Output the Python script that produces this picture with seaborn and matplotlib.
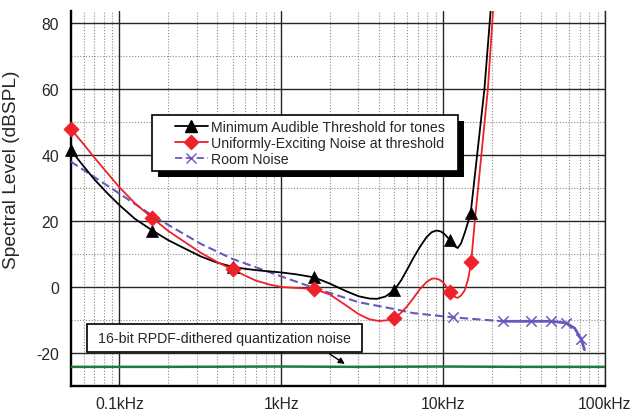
import matplotlib
matplotlib.use("Agg")
import matplotlib.pyplot as plt
from matplotlib.lines import Line2D
from matplotlib.patches import Rectangle
from matplotlib.ticker import FixedLocator, LogLocator, NullFormatter
import seaborn as sns

# Frequencies in kHz, levels in dBSPL

# Minimum audible threshold for tones: traced curve and measured points
mat_freq = [0.05, 0.06, 0.07, 0.085, 0.1, 0.125, 0.16, 0.2, 0.25, 0.32, 0.4,
            0.5, 0.6, 0.7, 0.85, 1.0, 1.25, 1.6, 2.0, 2.5, 3.0, 3.5, 3.9, 4.4,
            5.0, 5.5, 6.0, 6.5, 7.2, 7.9, 8.5, 9.1, 9.7, 10.2, 11.0, 11.7,
            12.3, 12.9, 13.6, 14.2, 14.8, 18.0, 19.6, 21.0]
mat_level = [41.5, 36.6, 32.6, 28.2, 24.8, 20.6, 17.1, 14.2, 11.8, 9.2, 7.4,
             6.1, 5.5, 5.1, 4.7, 4.4, 3.8, 2.9, 1.0, -1.2, -2.8, -3.5, -3.6, -2.9,
             -0.9, 2.0, 5.3, 8.5, 12.2, 15.1, 16.6, 17.1, 16.8, 16.0, 14.3, 12.4,
             11.8, 13.2, 16.4, 19.4, 22.4, 60.0, 83.0, 105.0]
mat_pt_freq = [0.05, 0.16, 0.5, 1.6, 5.0, 11.0, 14.8]
mat_pt_level = [41.5, 17.1, 6.1, 2.9, -0.9, 14.3, 22.4]

# Uniformly-exciting noise at threshold
uen_freq = [0.05, 0.06, 0.07, 0.085, 0.1, 0.125, 0.16, 0.2, 0.25, 0.32, 0.4,
            0.5, 0.6, 0.7, 0.85, 1.0, 1.25, 1.6, 2.0, 2.5, 3.0, 3.5, 4.0, 4.5,
            5.0, 5.5, 6.0, 6.5, 7.2, 7.9, 8.5, 8.9, 9.5, 10.0, 10.5, 11.0,
            11.7, 12.3, 12.9, 13.6, 14.3, 14.9, 15.6, 18.9, 20.3, 22.0]
uen_level = [47.9, 43.3, 39.2, 34.3, 30.2, 25.3, 20.9, 17.0, 13.8, 10.3, 7.6,
             5.3, 3.4, 1.9, 0.7, 0.0, -0.3, -0.6, -2.3, -5.5, -8.2, -9.8, -10.3,
             -10.1, -9.4, -7.8, -5.8, -3.6, -0.6, 1.5, 2.5, 2.6, 2.2, 1.4, 0.0,
             -1.4, -2.9, -3.3, -2.6, -1.0, 2.5, 7.5, 18.6, 60.0, 83.0, 110.0]
uen_pt_freq = [0.05, 0.16, 0.5, 1.6, 5.0, 11.0, 14.9]
uen_pt_level = [47.9, 20.9, 5.3, -0.6, -9.4, -1.4, 7.5]

# Room noise: low band (dashed) and high band (solid)
rn_freq = [0.05, 0.1, 0.16, 0.32, 0.5, 1.0, 1.6, 3.0, 5.0, 6.5, 11.5, 23.4]
rn_level = [38.0, 28.3, 21.6, 13.0, 8.5, 3.2, -0.3, -4.6, -6.7, -7.9, -9.2, -10.4]
rn_hi_freq = [23.4, 35.0, 46.6, 57.6, 65.0, 71.3, 74.7]
rn_hi_level = [-10.4, -10.4, -10.4, -10.9, -12.5, -15.8, -19.0]
rn_pt_freq = [11.5, 23.4, 35.0, 46.6, 57.6, 71.3]
rn_pt_level = [-9.2, -10.4, -10.4, -10.4, -10.9, -15.8]

# 16-bit RPDF-dithered quantization noise floor
qn_freq = [0.05, 0.2, 1.0, 3.0, 10.0, 30.0, 100.0]
qn_level = [-24.2, -24.2, -24.1, -24.2, -24.1, -24.2, -24.2]

x_ticks = [0.1, 1, 10, 100]
x_tick_labels = ["0.1kHz", "1kHz", "10kHz", "100kHz"]
y_ticks = [-20, 0, 20, 40, 60, 80]
y_minor_ticks = [-30, -10, 10, 30, 50, 70]

series_labels = ["Minimum Audible Threshold for tones",
                 "Uniformly-Exciting Noise at threshold",
                 "Room Noise"]
note_text = "16-bit RPDF-dithered quantization noise"

BLACK = "#000000"
RED = "#ee2028"
PURPLE = "#6a58bd"
GREEN = "#1b7a3c"

sns.set_style("white")
plt.rcParams["font.family"] = ["Liberation Sans", "DejaVu Sans"]

fig = plt.figure(figsize=(6.3, 4.14), dpi=100)
ax = fig.add_axes([0.1122, 0.0652, 0.8481, 0.9058])
ax.set_xscale("log")
ax.set_xlim(0.05, 100)
ax.set_ylim(-30, 83.6)

# grid
ax.set_axisbelow(True)
ax.grid(which="major", color="#262626", lw=1.0, ls="-")
ax.grid(which="minor", color="#8c8c8c", lw=0.8, ls=(0, (1, 1.6)))

# curves
sns.lineplot(x=qn_freq, y=qn_level, ax=ax, color=GREEN, lw=1.8,
             sort=False, estimator=None, zorder=3)
sns.lineplot(x=rn_freq, y=rn_level, ax=ax, color=PURPLE, lw=1.5,
             linestyle=(0, (4, 2)), sort=False, estimator=None, zorder=3)
sns.lineplot(x=rn_hi_freq, y=rn_hi_level, ax=ax, color=PURPLE, lw=2.0,
             sort=False, estimator=None, zorder=3)
sns.lineplot(x=mat_freq, y=mat_level, ax=ax, color=BLACK, lw=1.3,
             sort=False, estimator=None, zorder=3)
sns.lineplot(x=uen_freq, y=uen_level, ax=ax, color=RED, lw=1.3,
             sort=False, estimator=None, zorder=3)

# markers
sns.scatterplot(x=rn_pt_freq, y=rn_pt_level, ax=ax, marker="x", s=55,
                color=PURPLE, linewidth=1.1, zorder=4, clip_on=False)
sns.scatterplot(x=mat_pt_freq, y=mat_pt_level, ax=ax, marker="^", s=75,
                color=BLACK, edgecolor=BLACK, linewidth=0.5, zorder=4,
                clip_on=False)
sns.scatterplot(x=uen_pt_freq, y=uen_pt_level, ax=ax, marker="D", s=60,
                color=RED, edgecolor=RED, linewidth=0.5, zorder=4,
                clip_on=False)

# axes, ticks
ax.xaxis.set_major_locator(FixedLocator(x_ticks))
ax.set_xticklabels(x_tick_labels)
ax.xaxis.set_minor_locator(LogLocator(base=10, subs=range(2, 10)))
ax.xaxis.set_minor_formatter(NullFormatter())
ax.yaxis.set_major_locator(FixedLocator(y_ticks))
ax.set_yticklabels([str(v) for v in y_ticks])
ax.yaxis.set_minor_locator(FixedLocator(y_minor_ticks))

ax.tick_params(axis="x", which="major", direction="out", length=4.5, width=1.2,
               labelsize=11.3, pad=3, color="black")
ax.tick_params(axis="x", which="minor", direction="out", length=3, width=1.0,
               color="black")
ax.tick_params(axis="y", which="major", direction="out", length=6, width=1.2,
               labelsize=11.3, pad=2.5, color="black")
ax.tick_params(axis="y", which="minor", direction="out", length=2.5, width=1.0,
               color="black")

for side in ("left", "bottom"):
    ax.spines[side].set_linewidth(1.7)
    ax.spines[side].set_color("black")
ax.spines["right"].set_linewidth(1.0)
ax.spines["right"].set_color("#262626")
ax.spines["top"].set_visible(False)

ax.set_xlabel("")
ax.set_ylabel("Spectral Level (dBSPL)", fontsize=13.8)
ax.yaxis.set_label_coords(-0.094, 0.579)

# quantization-noise note with pointer
ax.add_patch(Rectangle((0.031, 0.0899), 0.5136, 0.0754, transform=ax.transAxes,
                       facecolor="white", edgecolor="black", lw=1.2, zorder=5))
ax.text(0.2878, 0.1276, note_text, transform=ax.transAxes, ha="center",
        va="center", fontsize=10.2, zorder=6)
ax.annotate("", xy=(2.47, -23.3), xytext=(1.99, -20.3),
            arrowprops=dict(arrowstyle="-|>", color="black", lw=1.0,
                            mutation_scale=9, shrinkA=0, shrinkB=0),
            zorder=6)

# legend with drop-shadowed frame
ax.add_patch(Rectangle((0.1527 + 0.0112, 0.5733 - 0.016), 0.5727, 0.1486,
                       transform=ax.transAxes, facecolor="black",
                       edgecolor="black", lw=0, zorder=6.8))
ax.add_patch(Rectangle((0.1527, 0.5733), 0.5727, 0.1486, transform=ax.transAxes,
                       facecolor="white", edgecolor="black", lw=1.2, zorder=6.9))
handles = [
    Line2D([], [], color=BLACK, lw=1.3, marker="^", markersize=8.6),
    Line2D([], [], color=RED, lw=1.3, marker="D", markersize=7.6),
    Line2D([], [], color=PURPLE, lw=1.3, ls=(0, (4, 2)), marker="x",
           markersize=7.5, markeredgewidth=1.0),
]
leg = ax.legend(handles, series_labels, loc="upper left",
                bbox_to_anchor=(0.1952, 0.7093), frameon=False,
                borderaxespad=0, borderpad=0, fontsize=10.2,
                handlelength=2.3, handletextpad=0.25, labelspacing=0.14)
leg.set_zorder(8)

fig.savefig("out.png", dpi=100)
